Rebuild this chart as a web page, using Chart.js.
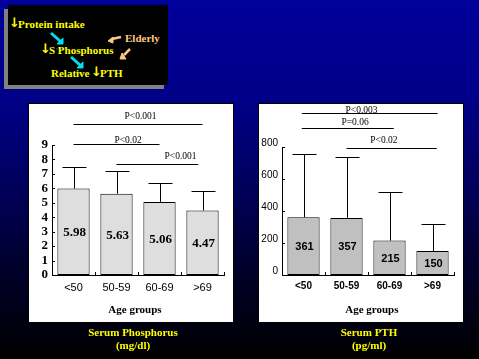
<!DOCTYPE html>
<html>
<head>
<meta charset="utf-8">
<script src="https://cdn.jsdelivr.net/npm/chart.js@4/dist/chart.umd.min.js"></script>
<style>
html, body { margin: 0; padding: 0; }
body { width: 479px; height: 359px; overflow: hidden; position: relative; background: linear-gradient(#00009c, #000088 28%, #000060 50%, #000030 72%, #000 100%); font-family: "Liberation Serif", serif; }
.shadow { position: absolute; left: 4px; top: 9px; width: 160px; height: 80px; background: #808080; }
.inset { position: absolute; left: 8px; top: 5px; width: 160px; height: 80px; background: #000; }
.t { position: absolute; font: bold 11px/12px "Liberation Serif", serif; color: #ffff00; white-space: nowrap; }
.arrow { font-family: "DejaVu Sans", sans-serif; font-size: 13px; }
.panel { position: absolute; top: 104px; width: 204px; height: 218px; background: #fff; outline: 1px solid #000; }
.cap { position: absolute; top: 326px; width: 204px; text-align: center; font: bold 11px/13px "Liberation Serif", serif; color: #ffff00; }
</style>
</head>
<body>
<div class="shadow"></div>
<div class="inset">
	<svg width="160" height="80" style="position:absolute;left:0;top:0">
		<g stroke="#00e0f0" fill="#00e0f0">
			<path d="M43 28 L52 36" stroke-width="3"/><path d="M49 39 L55 39 L55 33 Z"/>
			<path d="M63 52 L72 60" stroke-width="3"/><path d="M69 63 L75 63 L75 57 Z"/>
		</g>
		<path d="M48 44 H56 M68 68 H76" stroke="#007080"/>
		<g stroke="#ffc880" fill="#ffc880">
			<path d="M104 34 L113 32" stroke-width="2.5"/><path d="M100 36 L105 32 L105 38 Z"/>
			<path d="M116 50 L122 44" stroke-width="2.5"/><path d="M112 54 L118 54 L114 48 Z"/>
		</g>
	</svg>
	<span class="t arrow" style="left:1px;top:12px">↓</span>
	<span class="t" style="left:10px;top:13px">Protein intake</span>
	<span class="t arrow" style="left:32px;top:38px">↓</span>
	<span class="t" style="left:41px;top:39px">S Phosphorus</span>
	<span class="t" style="left:43px;top:62px">Relative</span>
	<span class="t arrow" style="left:83px;top:61px">↓</span>
	<span class="t" style="left:92px;top:62px">PTH</span>
	<span class="t" style="left:117px;top:27px;color:#ffc880">Elderly</span>
</div>

<div class="panel" style="left:29px"><canvas id="phosChart" width="204" height="218"></canvas></div>
<div class="panel" style="left:259px"><canvas id="pthChart" width="204" height="218"></canvas></div>
<div class="cap" style="left:31px">Serum Phosphorus<br>(mg/dl)</div>
<div class="cap" style="left:267px">Serum PTH<br>(pg/ml)</div>

<script>
const ageGroups = ["<50", "50-59", "60-69", ">69"]
const axisTitle = "Age groups"

const phosMeans = [5.98, 5.63, 5.06, 4.47]
const phosUpper = [7.48, 7.2, 6.37, 5.82]
const pthMeans = [361, 357, 215, 150]
const pthUpper = [759, 740, 516, 317]

const phosPLabels = ["P<0.001", "P<0.02", "P<0.001"]
const pthPLabels = ["P<0.003", "P=0.06", "P<0.02"]

// from / to are category positions, level is in units of the y axis
const phosBrackets = [
	{from: 0, to: 3, level: 10.46, labelAt: 1.56, gap: 8},
	{from: 0, to: 2, level: 9.09, labelAt: 1.27, gap: 4},
	{from: 1, to: 2.9, level: 7.69, labelAt: 2.49, gap: 8}
]
const pthBrackets = [
	{from: -0.04, to: 3.12, level: 1014, labelAt: 1.35, gap: 3},
	{from: -0.04, to: 2.1, level: 920, labelAt: 1.2, gap: 6},
	{from: 1, to: 3.1, level: 796, labelAt: 1.87, gap: 8}
]

const overlay = {
	id: 'overlay',
	afterDatasetsDraw(chart, args, o) {
		let ctx = chart.ctx, x = chart.scales.x, y = chart.scales.y
		let base = y.getPixelForValue(0)
		ctx.save()
		ctx.strokeStyle = '#000'
		ctx.fillStyle = '#000'
		ctx.lineWidth = 1
		ctx.textAlign = 'center'
		ctx.textBaseline = 'middle'

		function line(x1, y1, x2, y2) {
			ctx.beginPath()
			ctx.moveTo(x1, y1)
			ctx.lineTo(x2, y2)
			ctx.stroke()
		}

		// inward ticks
		y.ticks.forEach(t => {
			let py = Math.round(y.getPixelForValue(t.value)) + 0.5
			line(x.left, py, x.left + 3, py)
		})
		for (let i = 0; i <= ageGroups.length; i++) {
			let px = Math.round(x.getPixelForValue(i - 0.5)) + 0.5
			line(px, base, px, base - 3)
		}

		// error bars and value labels
		ctx.font = o.valueFont
		o.means.forEach((m, i) => {
			let px = Math.round(x.getPixelForValue(i)) + 0.5
			let top = Math.round(y.getPixelForValue(o.upper[i])) + 0.5
			line(px, y.getPixelForValue(m), px, top)
			line(px - 12, top, px + 12, top)
			ctx.fillText(String(m), px, y.getPixelForValue(m / 2) + 1)
		})

		// p value brackets above the plot
		ctx.font = '9.5px "Liberation Serif", serif'
		o.brackets.forEach((b, i) => {
			let py = Math.round(y.getPixelForValue(b.level)) + 0.5
			line(x.getPixelForValue(b.from), py, x.getPixelForValue(b.to), py)
			ctx.fillText(o.pLabels[i], x.getPixelForValue(b.labelAt), py - b.gap)
		})

		// axis title sits off centre in the original
		ctx.font = 'bold 11px "Liberation Serif", serif'
		ctx.fillText(axisTitle, x.getPixelForValue(o.titleAt), base + 35)
		ctx.restore()
	}
}

function makeChart(id, opt) {
	return new Chart(document.getElementById(id), {
		type: 'bar',
		plugins: [overlay],
		data: {
			labels: ageGroups,
			datasets: [{
				data: opt.means,
				backgroundColor: opt.fill,
				borderColor: '#000',
				borderWidth: 1,
				borderSkipped: false,
				barPercentage: 0.75,
				categoryPercentage: 1
			}]
		},
		options: {
			responsive: false,
			animation: false,
			layout: {padding: {top: opt.top, right: 9, left: 0, bottom: 0}},
			plugins: {
				legend: {display: false},
				tooltip: {enabled: false},
				overlay: {means: opt.means, upper: opt.upper, brackets: opt.brackets, pLabels: opt.pLabels, valueFont: opt.valueFont, titleAt: opt.titleAt}
			},
			scales: {
				x: {
					grid: {display: false, drawTicks: false},
					border: {color: '#000', width: 1},
					ticks: {color: '#000', font: opt.xFont, padding: opt.xPad, maxRotation: 0},
					afterFit(s) { s.height = 47 }
				},
				y: {
					min: 0,
					max: opt.max,
					grid: {display: false, drawTicks: false},
					border: {color: '#000', width: 1},
					ticks: {color: '#000', stepSize: opt.step, font: opt.yFont, padding: 4, autoSkip: false, callback: opt.yTick},
					afterFit(s) { s.width = opt.axisWidth }
				}
			}
		}
	})
}

makeChart('phosChart', {
	means: phosMeans, upper: phosUpper, brackets: phosBrackets, pLabels: phosPLabels,
	fill: '#dedede', max: 9, step: 1, top: 41, axisWidth: 23, titleAt: 1.43, xPad: 6,
	valueFont: 'bold 13px "Liberation Serif", serif',
	xFont: {family: 'Liberation Sans', size: 11},
	yFont: {family: 'Liberation Serif', weight: 'bold', size: 13}
})

makeChart('pthChart', {
	means: pthMeans, upper: pthUpper, brackets: pthBrackets, pLabels: pthPLabels,
	fill: '#c0c0c0', max: 800, step: 200, top: 43, axisWidth: 23, titleAt: 1.59, xPad: 5,
	valueFont: 'bold 11px "Liberation Sans", sans-serif',
	xFont: {family: 'Liberation Sans', weight: 'bold', size: 10},
	yFont: {family: 'Liberation Sans', size: 10, lineHeight: 0.8},
	// empty second line lifts the label above its tick, as in the original
	yTick: v => [String(v), '']
})
</script>
</body>
</html>
